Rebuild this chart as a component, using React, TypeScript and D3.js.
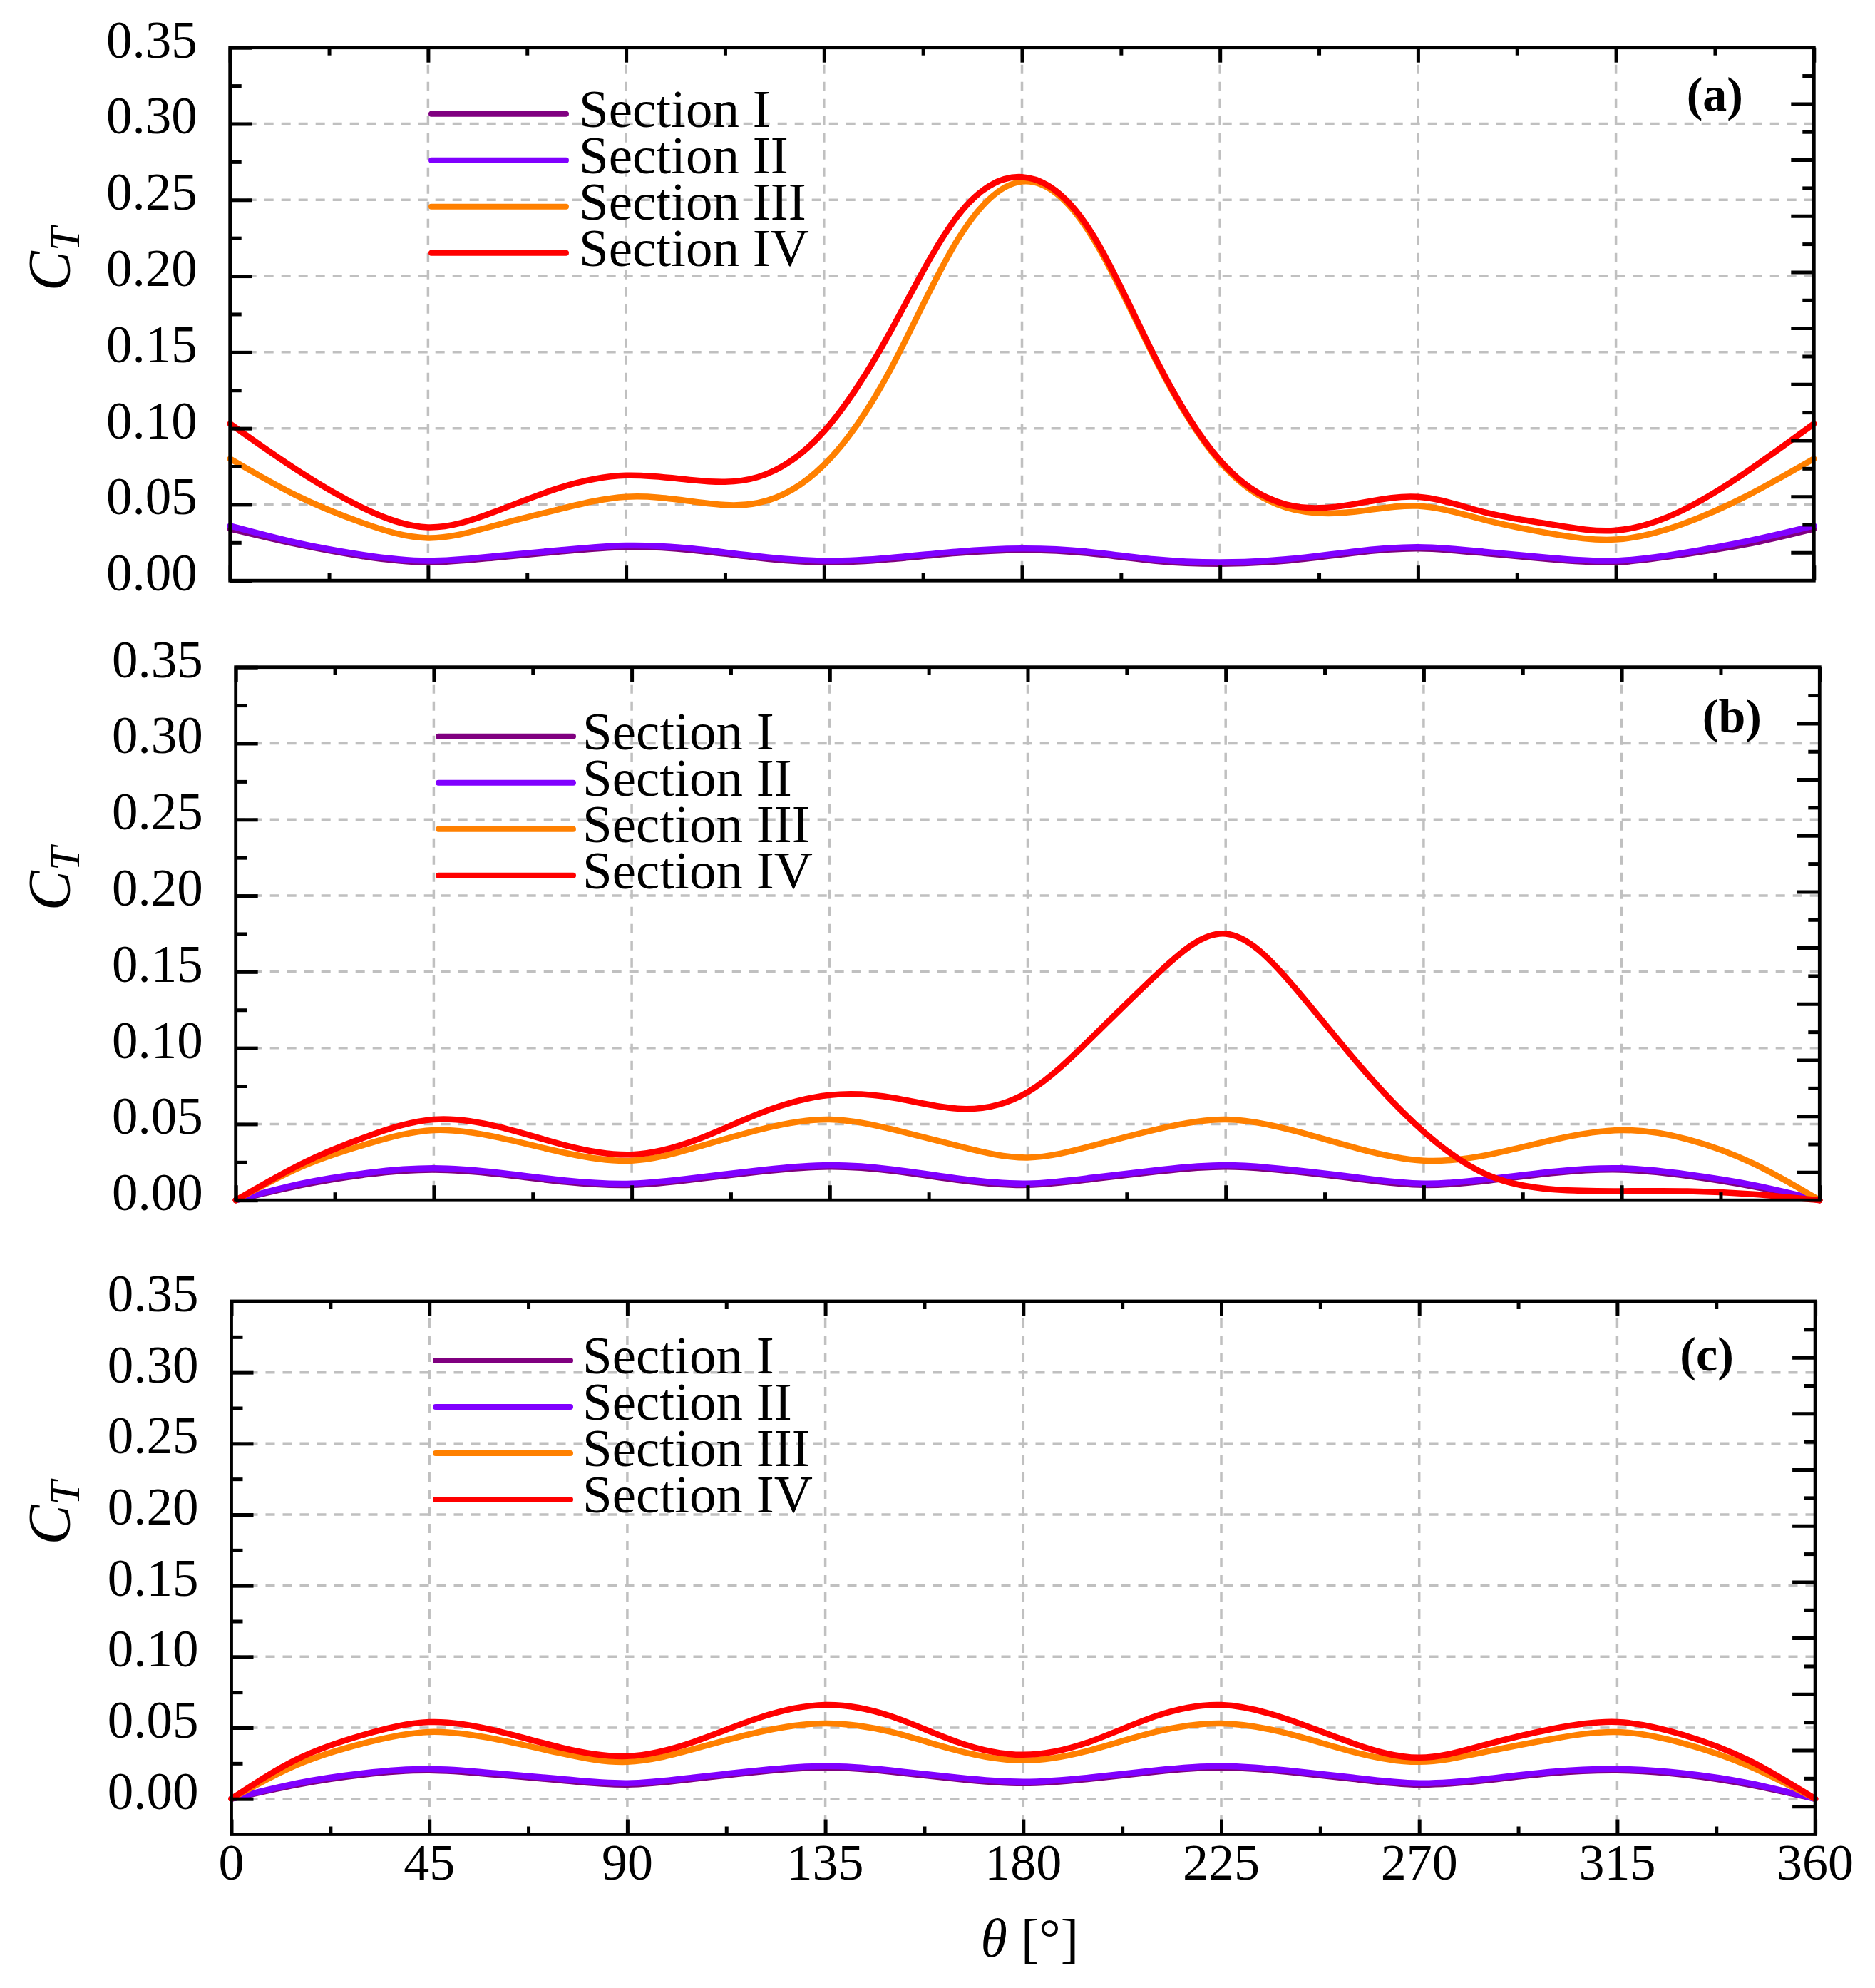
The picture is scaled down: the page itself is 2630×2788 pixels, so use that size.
import React, { useEffect, useRef } from 'react';
import * as d3 from 'd3';

// rotor angle samples (deg)
const theta = [0, 15, 30, 45, 60, 75, 90, 105, 120, 135, 150, 165, 180, 195, 210, 225, 240, 255, 270, 285, 300, 315, 330, 345, 360];

const sectionNames = ['Section I', 'Section II', 'Section III', 'Section IV'];
const sectionColors = ['#800080', '#8000ff', '#ff8000', '#ff0000'];

// panel (a)
const aSecI = [0.034, 0.024, 0.016, 0.012, 0.015, 0.019, 0.022, 0.020, 0.015, 0.012, 0.014, 0.018, 0.020, 0.018, 0.013, 0.011, 0.013, 0.018, 0.021, 0.018, 0.014, 0.012, 0.017, 0.024, 0.034];
const aSecII = [0.036, 0.025, 0.017, 0.013, 0.016, 0.020, 0.023, 0.021, 0.016, 0.013, 0.015, 0.019, 0.021, 0.019, 0.014, 0.012, 0.014, 0.019, 0.022, 0.019, 0.015, 0.013, 0.018, 0.026, 0.036];
const aSecIII = [0.080, 0.056, 0.038, 0.028, 0.036, 0.047, 0.055, 0.052, 0.051, 0.076, 0.138, 0.222, 0.262, 0.230, 0.147, 0.078, 0.048, 0.045, 0.049, 0.040, 0.031, 0.027, 0.037, 0.056, 0.080];
const aSecIV = [0.103, 0.073, 0.048, 0.035, 0.045, 0.061, 0.069, 0.066, 0.068, 0.098, 0.163, 0.238, 0.265, 0.232, 0.148, 0.079, 0.050, 0.050, 0.055, 0.045, 0.037, 0.033, 0.046, 0.072, 0.103];

// panel (b)
const bSecI = [0, 0.010, 0.017, 0.020, 0.017, 0.012, 0.010, 0.014, 0.019, 0.022, 0.019, 0.013, 0.010, 0.014, 0.019, 0.022, 0.019, 0.014, 0.010, 0.013, 0.018, 0.020, 0.016, 0.009, 0];
const bSecII = [0, 0.011, 0.018, 0.021, 0.018, 0.013, 0.011, 0.015, 0.020, 0.023, 0.020, 0.014, 0.011, 0.015, 0.020, 0.023, 0.020, 0.015, 0.011, 0.014, 0.019, 0.021, 0.017, 0.010, 0];
const bSecIII = [0, 0.022, 0.037, 0.046, 0.041, 0.031, 0.026, 0.035, 0.047, 0.053, 0.046, 0.035, 0.028, 0.036, 0.047, 0.053, 0.046, 0.034, 0.026, 0.030, 0.040, 0.046, 0.040, 0.024, 0];
const bSecIV = [0, 0.024, 0.042, 0.053, 0.048, 0.036, 0.030, 0.040, 0.058, 0.069, 0.067, 0.060, 0.071, 0.108, 0.150, 0.175, 0.142, 0.090, 0.045, 0.016, 0.007, 0.006, 0.006, 0.004, 0];

// panel (c)
const cSecI = [0, 0.010, 0.017, 0.020, 0.017, 0.013, 0.010, 0.014, 0.019, 0.022, 0.019, 0.014, 0.011, 0.014, 0.019, 0.022, 0.019, 0.014, 0.010, 0.013, 0.018, 0.020, 0.017, 0.010, 0];
const cSecII = [0, 0.011, 0.018, 0.021, 0.018, 0.014, 0.011, 0.015, 0.020, 0.023, 0.020, 0.015, 0.012, 0.015, 0.020, 0.023, 0.020, 0.015, 0.011, 0.014, 0.019, 0.021, 0.018, 0.011, 0];
const cSecIII = [0, 0.024, 0.039, 0.047, 0.042, 0.032, 0.026, 0.035, 0.047, 0.053, 0.047, 0.034, 0.027, 0.034, 0.047, 0.053, 0.046, 0.033, 0.026, 0.033, 0.042, 0.047, 0.039, 0.023, 0];
const cSecIV = [0, 0.028, 0.045, 0.054, 0.048, 0.036, 0.030, 0.040, 0.057, 0.066, 0.058, 0.040, 0.031, 0.040, 0.058, 0.066, 0.056, 0.039, 0.029, 0.038, 0.049, 0.054, 0.045, 0.027, 0];

const xMajor = [0, 45, 90, 135, 180, 225, 270, 315, 360];
const xMinor = [22.5, 67.5, 112.5, 157.5, 202.5, 247.5, 292.5, 337.5];
const yMajor = [0, 0.05, 0.1, 0.15, 0.2, 0.25, 0.3, 0.35];
const yMinor = [0.025, 0.075, 0.125, 0.175, 0.225, 0.275, 0.325];

const panels = [
  { label: '(a)', series: [aSecI, aSecII, aSecIII, aSecIV], yMin: 0, left: 322.7, top: 66.7, labelDx: 139, labelDy: 88, legendDy: 93, legendX: 605, textX: 812 },
  { label: '(b)', series: [bSecI, bSecII, bSecIII, bSecIV], yMin: 0, left: 330.7, top: 935.7, labelDx: 123, labelDy: 91, legendDy: 97, legendX: 615, textX: 817 },
  { label: '(c)', series: [cSecI, cSecII, cSecIII, cSecIV], yMin: -0.025, left: 324.5, top: 1825, labelDx: 152, labelDy: 97, legendDy: 83, legendX: 611, textX: 817 },
];

const W = 2630;
const H = 2788;
const PW = 2221.6;
const PH = 747.5;
const FONT = "'Liberation Serif', 'Times New Roman', serif";

export default function App() {
  const svgRef = useRef<SVGSVGElement>(null);

  useEffect(() => {
    if (!svgRef.current) return;
    const svg = d3.select(svgRef.current);
    svg.selectAll('*').remove();
    svg.append('rect').attr('width', W).attr('height', H).attr('fill', '#fff');

    panels.forEach((p, pi) => {
      const g = svg.append('g').attr('transform', `translate(${p.left},${p.top})`);
      const x = d3.scaleLinear().domain([0, 360]).range([0, PW]);
      const y = d3.scaleLinear().domain([p.yMin, 0.35]).range([PH, 0]);
      const yr = d3.scaleLinear().domain([0, 19]).range([PH, 0]);

      // grid
      const grid = g.append('g').attr('stroke', '#c0c0c0').attr('stroke-width', 3.5).attr('stroke-dasharray', '13 11');
      grid.selectAll('line.h').data(yMajor.filter(v => y(v) > 2 && y(v) < PH - 2)).enter().append('line')
        .attr('x1', 0).attr('x2', PW).attr('y1', d => y(d)).attr('y2', d => y(d));
      grid.selectAll('line.v').data(xMajor.filter(v => v > 0 && v < 360)).enter().append('line')
        .attr('y1', 0).attr('y2', PH).attr('x1', d => x(d)).attr('x2', d => x(d));

      // curves
      const line = d3.line<number>()
        .x((_, i) => x(theta[i]))
        .y(d => y(d))
        .curve(d3.curveNatural);
      p.series.forEach((s, si) => {
        g.append('path').datum(s).attr('d', line).attr('fill', 'none')
          .attr('stroke', sectionColors[si]).attr('stroke-width', 8.5)
          .attr('stroke-linejoin', 'round').attr('stroke-linecap', 'round');
      });

      // ticks (inward)
      const styleAxis = (sel: any) => {
        sel.select('.domain').remove();
        sel.selectAll('line').attr('stroke', '#000').attr('stroke-width', 5);
      };
      g.append('g').call(d3.axisLeft(y).tickValues(yMajor).tickSize(-31).tickFormat(() => '')).call(styleAxis);
      g.append('g').call(d3.axisLeft(y).tickValues(yMinor).tickSize(-16).tickFormat(() => '')).call(styleAxis);
      const rIdx = d3.range(1, 19);
      g.append('g').attr('transform', `translate(${PW},0)`)
        .call(d3.axisRight(yr).tickValues(rIdx.filter(i => i % 2 === 1)).tickSize(-32).tickFormat(() => '')).call(styleAxis);
      g.append('g').attr('transform', `translate(${PW},0)`)
        .call(d3.axisRight(yr).tickValues(rIdx.filter(i => i % 2 === 0)).tickSize(-16).tickFormat(() => '')).call(styleAxis);
      [0, PH].forEach((ty, k) => {
        const maj = k === 0 ? d3.axisTop(x) : d3.axisBottom(x);
        const mi = k === 0 ? d3.axisTop(x) : d3.axisBottom(x);
        g.append('g').attr('transform', `translate(0,${ty})`)
          .call(maj.tickValues(xMajor).tickSize(-21).tickFormat(() => '')).call(styleAxis);
        g.append('g').attr('transform', `translate(0,${ty})`)
          .call(mi.tickValues(xMinor).tickSize(-11).tickFormat(() => '')).call(styleAxis);
      });

      // frame
      g.append('rect').attr('width', PW).attr('height', PH).attr('fill', 'none')
        .attr('stroke', '#000').attr('stroke-width', 4.8);

      // y tick labels
      g.append('g').selectAll('text').data(yMajor).enter().append('text')
        .attr('x', -46).attr('y', d => y(d) + 14).attr('text-anchor', 'end')
        .style('font-family', FONT).style('font-size', '73px').attr('fill', '#000')
        .text(d => d3.format('.2f')(d));

      // x tick labels on bottom panel only
      if (pi === panels.length - 1) {
        g.append('g').selectAll('text').data(xMajor).enter().append('text')
          .attr('x', d => x(d)).attr('y', PH + 63).attr('text-anchor', 'middle')
          .style('font-family', FONT).style('font-size', '72px').attr('fill', '#000')
          .text(d => String(d));
        const xt = g.append('text').attr('x', PW / 2 + 9).attr('y', PH + 171).attr('text-anchor', 'middle')
          .style('font-family', FONT).style('font-size', '76px').attr('fill', '#000');
        xt.append('tspan').style('font-style', 'italic').text('θ');
        xt.append('tspan').text(' [°]');
      }

      // y axis title
      const yt = g.append('text')
        .attr('transform', `translate(${98 - p.left},${PH / 2 - 77}) rotate(-90)`)
        .attr('text-anchor', 'middle').style('font-family', FONT).attr('fill', '#000');
      yt.append('tspan').style('font-style', 'italic').style('font-size', '84px').text('C');
      yt.append('tspan').style('font-style', 'italic').style('font-size', '60px').attr('dy', 13).text('T');

      // panel label
      g.append('text').attr('x', PW - p.labelDx).attr('y', p.labelDy).attr('text-anchor', 'middle')
        .style('font-family', FONT).style('font-weight', 'bold').style('font-size', '68px').attr('fill', '#000')
        .text(p.label);

      // legend
      sectionNames.forEach((name, si) => {
        const ly = p.legendDy + si * 65;
        g.append('line').attr('x1', p.legendX - p.left).attr('x2', p.legendX - p.left + 189)
          .attr('y1', ly).attr('y2', ly).attr('stroke', sectionColors[si]).attr('stroke-width', 8)
          .attr('stroke-linecap', 'round');
        g.append('text').attr('x', p.textX - p.left).attr('y', ly + 18)
          .style('font-family', FONT).style('font-size', '75px').attr('fill', '#000').text(name);
      });
    });
  }, []);

  return (
    <svg ref={svgRef} width={W} height={H} viewBox={`0 0 ${W} ${H}`}
      style={{ position: 'absolute', left: 0, top: 0, display: 'block' }} />
  );
}
